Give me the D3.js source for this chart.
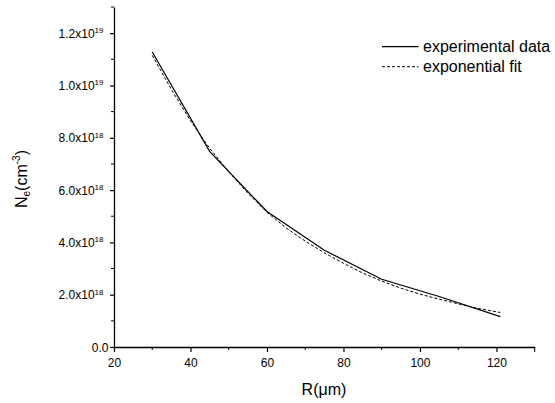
<!DOCTYPE html>
<html>
<head>
<meta charset="utf-8">
<script src="https://cdn.jsdelivr.net/npm/d3@7"></script>
<style>
  body { margin: 0; background: #fff; }
  text { font-family: "Liberation Sans", Arial, sans-serif; fill: #000; }
</style>
</head>
<body>
<script>
// experimental points
var expR  = [30, 45, 60, 75, 90, 105, 121];
var expNe = [11.28e18, 7.48e18, 5.18e18, 3.70e18, 2.59e18, 1.93e18, 1.16e18];

// exponential fit curve
var fitR  = [30, 35, 40, 45, 50, 55, 60, 65, 70, 75, 80, 85, 90, 95, 100, 105, 110, 115, 121];
var fitNe = [11.15e18, 9.85e18, 8.65e18, 7.6e18, 6.7e18, 5.88e18, 5.15e18, 4.55e18, 4.05e18,
             3.6e18, 3.2e18, 2.83e18, 2.52e18, 2.25e18, 2.02e18, 1.83e18, 1.65e18, 1.48e18, 1.32e18];

var xMajor = [20, 40, 60, 80, 100, 120];
var xMinor = [30, 50, 70, 90, 110, 130];
var yMajor = [0, 2e18, 4e18, 6e18, 8e18, 1e19, 1.2e19];
var yMinor = [1e18, 3e18, 5e18, 7e18, 9e18, 1.1e19, 1.3e19];
var yMant  = ["0.0", "2.0", "4.0", "6.0", "8.0", "1.0", "1.2"];
var yExp   = ["", "18", "18", "18", "18", "19", "19"];

var legendNames = ["experimental data", "exponential fit"];

var width = 555, height = 403;

var svg = d3.select("body").append("svg")
    .attr("width", width).attr("height", height);

var x = d3.scaleLinear().domain([20, 130]).range([114, 534.7]);
var y = d3.scaleLinear().domain([0, 1.3e19]).range([347, 7]);

// x axis
var gx = svg.append("g").attr("transform", "translate(0," + y(0) + ")");
gx.call(d3.axisBottom(x).tickValues(xMajor).tickSize(5).tickSizeOuter(0).tickPadding(6)
      .tickFormat(d3.format("d")));
gx.append("g").selectAll("line").data(xMinor).enter().append("line")
    .attr("x1", d => x(d)).attr("x2", d => x(d))
    .attr("y1", 0).attr("y2", d => d === 130 ? 5 : 3)
    .attr("stroke", "#000");

// y axis
var gy = svg.append("g").attr("transform", "translate(" + x(20) + ",0)");
gy.call(d3.axisLeft(y).tickValues(yMajor).tickSize(4).tickSizeOuter(0).tickFormat(""));
gy.append("g").selectAll("line").data(yMinor).enter().append("line")
    .attr("y1", d => y(d)).attr("y2", d => y(d))
    .attr("x1", 0).attr("x2", -3)
    .attr("stroke", "#000");

svg.selectAll(".domain").attr("stroke-width", 1.3);
svg.selectAll(".tick line").attr("stroke-width", 1.2);
gx.selectAll(".tick text").attr("font-size", 12).attr("font-family", "Liberation Sans, Arial, sans-serif");

// y tick labels with superscript exponents
yMajor.forEach(function(v, i) {
  var t = svg.append("text")
      .attr("text-anchor", "end")
      .attr("x", yExp[i] ? 103.5 : 108.5)
      .attr("y", y(v) + 4.5)
      .attr("font-size", 12);
  if (yExp[i]) {
    t.append("tspan").text(yMant[i] + "x10");
    t.append("tspan").attr("font-size", 8).attr("dy", -4.5).text(yExp[i]);
  } else {
    t.text(yMant[i]);
  }
});

// lines
var line = d3.line().x(d => x(d[0])).y(d => y(d[1]));

svg.append("path")
    .datum(expR.map((r, i) => [r, expNe[i]]))
    .attr("d", line)
    .attr("fill", "none").attr("stroke", "#000").attr("stroke-width", 1.2);

svg.append("path")
    .datum(fitR.map((r, i) => [r, fitNe[i]]))
    .attr("d", line)
    .attr("fill", "none").attr("stroke", "#000").attr("stroke-width", 1)
    .attr("stroke-dasharray", "3,2");

// axis titles
svg.append("text")
    .attr("x", 324).attr("y", 395)
    .attr("text-anchor", "middle").attr("font-size", 16)
    .text("R(\u03bcm)");

var yt = svg.append("text")
    .attr("transform", "translate(26.5,179) rotate(-90)")
    .attr("text-anchor", "middle").attr("font-size", 16);
yt.append("tspan").text("N");
yt.append("tspan").attr("font-size", 10).attr("dy", 3).text("e");
yt.append("tspan").attr("dy", -3).text("(cm");
yt.append("tspan").attr("font-size", 10).attr("dy", -7).text("-3");
yt.append("tspan").attr("dy", 7).text(")");

// legend
var leg = svg.append("g").selectAll("g").data(legendNames).enter().append("g")
    .attr("transform", (d, i) => "translate(382," + (46.7 + i * 20) + ")");
leg.append("line")
    .attr("x1", 0).attr("x2", 36.5).attr("y1", 0).attr("y2", 0)
    .attr("stroke", "#000")
    .attr("stroke-width", (d, i) => i ? 1 : 1.2)
    .attr("stroke-dasharray", (d, i) => i ? "3,2" : null);
leg.append("text")
    .attr("x", 41).attr("y", 5.5)
    .attr("font-size", 16)
    .text(d => d);
</script>
</body>
</html>
